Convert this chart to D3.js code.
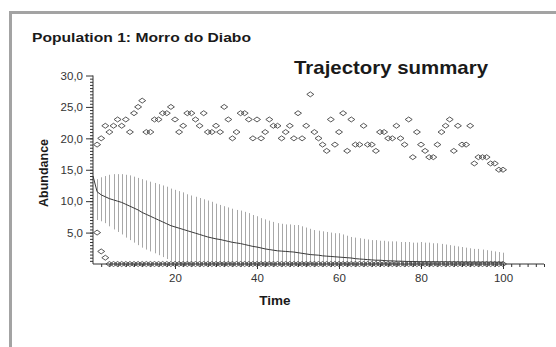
<!DOCTYPE html>
<html>
<head>
<meta charset="utf-8">
<script src="https://cdn.jsdelivr.net/npm/d3@7"></script>
<style>
  body { margin: 0; background: #fff; }
  svg { display: block; }
  text { font-family: "Liberation Sans", Arial, sans-serif; }
</style>
</head>
<body>
<svg id="chart" width="556" height="347"></svg>
<script>
// Maximum abundance over replicates, time steps 1..100
const maxAbundance = [
  19, 20, 22, 21, 22, 23, 22, 23, 21, 24,
  25, 26, 21, 21, 23, 23, 24, 24, 25, 23,
  21, 22, 24, 24, 23, 22, 24, 21, 21, 22,
  21, 25, 23, 20, 21, 24, 24, 23, 20, 23,
  20, 21, 23, 22, 22, 20, 21, 22, 20, 24,
  20, 22, 27, 21, 20, 19, 18, 23, 19, 21,
  24, 18, 23, 19, 19, 22, 19, 19, 18, 21,
  21, 20, 20, 22, 20, 19, 23, 17, 21, 19,
  18, 17, 17, 19, 21, 22, 23, 18, 22, 19,
  19, 22, 16, 17, 17, 17, 16, 16, 15, 15
];

// Minimum abundance over replicates, time steps 1..100
const minAbundance = [
  5, 2, 1, 0, 0, 0, 0, 0, 0, 0,
  0, 0, 0, 0, 0, 0, 0, 0, 0, 0,
  0, 0, 0, 0, 0, 0, 0, 0, 0, 0,
  0, 0, 0, 0, 0, 0, 0, 0, 0, 0,
  0, 0, 0, 0, 0, 0, 0, 0, 0, 0,
  0, 0, 0, 0, 0, 0, 0, 0, 0, 0,
  0, 0, 0, 0, 0, 0, 0, 0, 0, 0,
  0, 0, 0, 0, 0, 0, 0, 0, 0, 0,
  0, 0, 0, 0, 0, 0, 0, 0, 0, 0,
  0, 0, 0, 0, 0, 0, 0, 0, 0, 0
];

// Mean abundance, time steps 0..100
const meanAbundance = [
  14.0,
  11.5, 11.0, 10.7, 10.4, 10.2, 10.0, 9.8, 9.5, 9.2, 8.9,
  8.6, 8.2, 7.9, 7.6, 7.3, 7.0, 6.7, 6.4, 6.1, 5.9,
  5.7, 5.5, 5.3, 5.1, 4.9, 4.7, 4.5, 4.3, 4.15, 4.0,
  3.9, 3.75, 3.6, 3.45, 3.35, 3.25, 3.1, 2.95, 2.8, 2.7,
  2.55, 2.4, 2.3, 2.2, 2.1, 2.05, 2.0, 1.95, 1.9, 1.8,
  1.7, 1.6, 1.5, 1.45, 1.4, 1.3, 1.25, 1.2, 1.15, 1.1,
  1.05, 1.0, 0.95, 0.85, 0.8, 0.75, 0.7, 0.65, 0.6, 0.6,
  0.55, 0.5, 0.5, 0.45, 0.45, 0.42, 0.4, 0.4, 0.38, 0.37,
  0.37, 0.36, 0.36, 0.35, 0.35, 0.35, 0.34, 0.34, 0.33, 0.33,
  0.32, 0.32, 0.31, 0.31, 0.3, 0.3, 0.3, 0.29, 0.29, 0.28
];

// Upper end of the spread bar, time steps 1..100
const upperBound = [
  13.5, 13.8, 14.0, 14.2, 14.3, 14.3, 14.3, 14.2, 14.1, 13.9,
  13.7, 13.5, 13.3, 13.1, 12.9, 12.7, 12.5, 12.3, 12.0, 11.8,
  11.6, 11.4, 11.1, 10.9, 10.7, 10.5, 10.3, 10.1, 9.9, 9.6,
  9.4, 9.2, 9.0, 8.8, 8.6, 8.5, 8.3, 8.1, 7.8, 7.6,
  7.3, 7.1, 6.9, 6.7, 6.5, 6.4, 6.3, 6.3, 6.2, 6.2,
  6.0, 5.8, 5.6, 5.4, 5.3, 5.2, 5.1, 5.0, 4.9, 4.9,
  4.7, 4.5, 4.3, 4.2, 4.1, 4.0, 3.9, 3.8, 3.8, 3.7,
  3.7, 3.6, 3.6, 3.6, 3.5, 3.5, 3.5, 3.4, 3.4, 3.5,
  3.4, 3.4, 3.3, 3.3, 3.2, 3.1, 3.0, 2.9, 2.8, 2.7,
  2.6, 2.5, 2.4, 2.4, 2.3, 2.2, 2.1, 2.0, 1.9, 1.8
];

// Lower end of the spread bar, time steps 1..100
const lowerBound = [
  7.0, 6.8, 6.5, 6.0, 5.5, 5.1, 4.7, 4.2, 3.8, 3.4,
  3.0, 2.6, 2.3, 2.0, 1.7, 1.4, 1.1, 0.8, 0.5, 0.3,
  0.1, 0, 0, 0, 0, 0, 0, 0, 0, 0,
  0, 0, 0, 0, 0, 0, 0, 0, 0, 0,
  0, 0, 0, 0, 0, 0, 0, 0, 0, 0,
  0, 0, 0, 0, 0, 0, 0, 0, 0, 0,
  0, 0, 0, 0, 0, 0, 0, 0, 0, 0,
  0, 0, 0, 0, 0, 0, 0, 0, 0, 0,
  0, 0, 0, 0, 0, 0, 0, 0, 0, 0,
  0, 0, 0, 0, 0, 0, 0, 0, 0, 0
];

const yMajorTicks = [5, 10, 15, 20, 25, 30];
const xMajorTicks = [20, 40, 60, 80, 100];

const svg = d3.select("#chart");

// panel frame
svg.append("rect")
  .attr("x", 10.5).attr("y", 12.5)
  .attr("width", 560).attr("height", 350)
  .attr("fill", "#fff")
  .attr("stroke", "#a3a3a3")
  .attr("stroke-width", 3);

svg.append("text")
  .attr("x", 32).attr("y", 42)
  .attr("font-size", 13).attr("font-weight", "bold")
  .attr("fill", "#1a1a1a")
  .attr("textLength", 219).attr("lengthAdjust", "spacingAndGlyphs")
  .text("Population 1: Morro do Diabo");

svg.append("text")
  .attr("x", 294).attr("y", 74)
  .attr("font-size", 19).attr("font-weight", "bold")
  .attr("fill", "#1a1a1a")
  .attr("textLength", 194).attr("lengthAdjust", "spacingAndGlyphs")
  .text("Trajectory summary");

const x = d3.scaleLinear().domain([0, 110]).range([93, 544]);
const y = d3.scaleLinear().domain([0, 30]).range([264, 75.5]);

const steps = maxAbundance.map((_, i) => i + 1);

// spread bars
svg.append("g")
  .selectAll("line")
  .data(steps)
  .join("line")
  .attr("x1", t => Math.round(x(t)) + 0.5)
  .attr("x2", t => Math.round(x(t)) + 0.5)
  .attr("y1", t => y(upperBound[t - 1]))
  .attr("y2", t => y(lowerBound[t - 1]))
  .attr("stroke", "#a8a8a8")
  .attr("stroke-width", 1);

// mean trajectory
svg.append("path")
  .datum(meanAbundance)
  .attr("d", d3.line().x((d, i) => x(i)).y(d => y(d)))
  .attr("fill", "none")
  .attr("stroke", "#3a3a3a")
  .attr("stroke-width", 1);

// y axis
const yAxisG = svg.append("g").attr("transform", "translate(93,0)");
yAxisG.append("g")
  .call(d3.axisLeft(y).tickValues(d3.range(0.5, 30, 0.5)).tickSize(3).tickFormat(""))
  .call(g => g.select(".domain").remove())
  .call(g => g.selectAll("line").attr("stroke", "#333"));
yAxisG.append("g")
  .call(d3.axisLeft(y).tickValues(yMajorTicks).tickSize(7).tickPadding(3)
    .tickFormat(d => d3.format(".1f")(d).replace(".", ",")))
  .call(g => g.select(".domain").attr("stroke", "#333").attr("d", `M0,${y(30)}V${y(0)}`))
  .call(g => g.selectAll("line").attr("stroke", "#333"))
  .call(g => g.selectAll("text").attr("font-size", 11.5).attr("fill", "#333")
    .attr("font-family", "'Liberation Sans', Arial, sans-serif"));

// x axis
const xAxisG = svg.append("g").attr("transform", "translate(0,264)");
xAxisG.append("g")
  .call(d3.axisBottom(x).tickValues(d3.range(2, 111, 2)).tickSize(3).tickFormat(""))
  .call(g => g.select(".domain").remove())
  .call(g => g.selectAll("line").attr("stroke", "#333"));
xAxisG.append("g")
  .call(d3.axisBottom(x).tickValues(xMajorTicks).tickSize(5).tickPadding(5))
  .call(g => g.select(".domain").attr("stroke", "#333").attr("d", `M${x(0)},0H${x(110)}`))
  .call(g => g.selectAll("line").attr("stroke", "#333"))
  .call(g => g.selectAll("text").attr("font-size", 11.5).attr("fill", "#333")
    .attr("font-family", "'Liberation Sans', Arial, sans-serif"));

// diamond markers for max and min
const diamond = "M-3.5,0L0,-2.5L3.5,0L0,2.5Z";
function drawMarkers(values) {
  svg.append("g")
    .selectAll("path")
    .data(values)
    .join("path")
    .attr("d", diamond)
    .attr("transform", (d, i) => `translate(${x(i + 1)},${y(d)})`)
    .attr("fill", "none")
    .attr("stroke", "#444")
    .attr("stroke-width", 0.9);
}
drawMarkers(maxAbundance);
drawMarkers(minAbundance);

svg.append("text")
  .attr("transform", "translate(48,173) rotate(-90)")
  .attr("text-anchor", "middle")
  .attr("font-size", 12.5).attr("font-weight", "bold")
  .attr("fill", "#1a1a1a")
  .text("Abundance");

svg.append("text")
  .attr("x", 275).attr("y", 305)
  .attr("text-anchor", "middle")
  .attr("font-size", 13.5).attr("font-weight", "bold")
  .attr("fill", "#1a1a1a")
  .text("Time");
</script>
</body>
</html>
